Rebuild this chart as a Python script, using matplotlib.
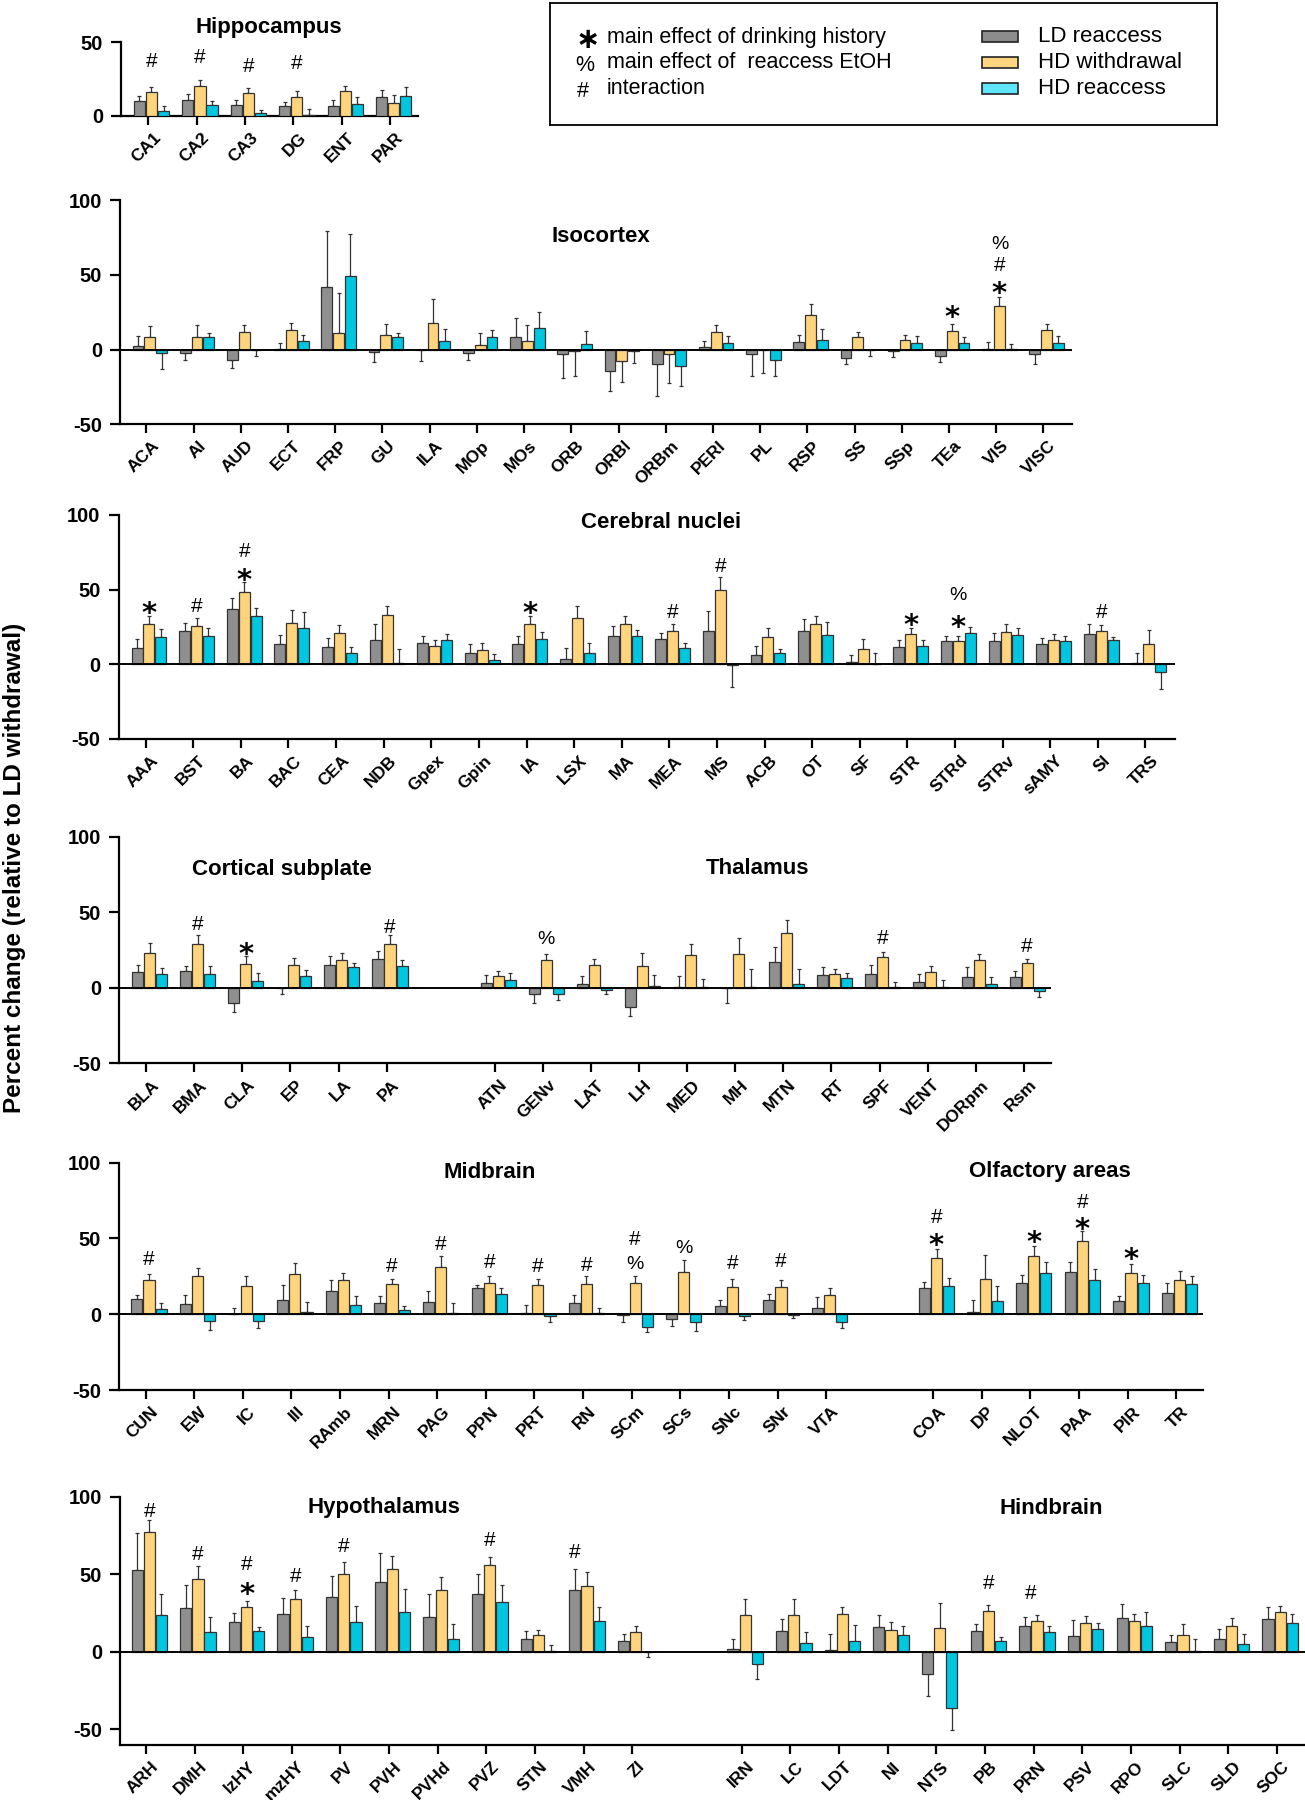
import matplotlib
matplotlib.use('Agg')
import matplotlib.pyplot as plt
import numpy as np
from matplotlib import font_manager
from matplotlib.ft2font import FT2Font
from matplotlib.patches import Rectangle
from matplotlib.transforms import ScaledTranslation

plt.rcParams['font.family'] = ['Liberation Sans', 'DejaVu Sans']

# ---------------- data (percent change, mean and SEM) ----------------
hippo_regions = ['CA1', 'CA2', 'CA3', 'DG', 'ENT', 'PAR']
hippo_ld = [10, 11, 7.5, 6.5, 6.5, 12.5]
hippo_ld_err = [3.5, 3.5, 3.5, 3, 4, 5]
hippo_hdw = [16, 20, 15.5, 13, 16.5, 8.5]
hippo_hdw_err = [3.5, 4, 3.5, 3.5, 4, 5.5]
hippo_hdr = [3, 7, 1.5, 0.5, 8, 13.5]
hippo_hdr_err = [3.5, 3, 2.5, 4, 4.5, 6]
hippo_marks = {'CA1': [('#', 38)], 'CA2': [('#', 41)], 'CA3': [('#', 35)], 'DG': [('#', 37)]}

iso_regions = ['ACA', 'AI', 'AUD', 'ECT', 'FRP', 'GU', 'ILA', 'MOp', 'MOs', 'ORB',
               'ORBl', 'ORBm', 'PERI', 'PL', 'RSP', 'SS', 'SSp', 'TEa', 'VIS', 'VISC']
iso_ld = [2.2, -2.2, -7.2, 0.3, 41.7, -1.5, -0.3, -2.2, 8.5, -2.7,
          -14.6, -9.9, 1.8, -2.7, 5.2, -5.4, -1.3, -4.5, 0.3, -2.7]
iso_ld_err = [7.0, 5.0, 4.9, 4.2, 37.3, 7.0, 7.5, 5.0, 12.4, 16.3,
              12.8, 21.3, 4.0, 15.2, 4.2, 4.2, 3.6, 3.6, 4.6, 7.2]
iso_hdw = [8.5, 8.5, 11.7, 13.2, 10.8, 9.4, 17.9, 3.1, 5.6, -0.9,
           -7.8, -2.7, 11.7, -0.3, 22.9, 8.3, 6.3, 12.6, 29.1, 12.8]
iso_hdw_err = [7.2, 7.9, 4.9, 4.3, 26.9, 7.4, 15.7, 7.7, 10.8, 16.8,
               14.2, 19.7, 4.7, 15.4, 7.4, 3.6, 3.3, 4.4, 6.3, 4.0]
iso_hdr = [-2.2, 8.5, -0.3, 5.8, 49.3, 8.3, 5.4, 8.1, 14.1, 3.4,
           -1.0, -10.8, 4.7, -6.7, 6.1, -0.3, 4.5, 4.3, 0.3, 4.7]
iso_hdr_err = [10.6, 2.7, 3.7, 3.8, 28.1, 2.9, 8.1, 4.9, 11.0, 9.2,
               7.7, 13.6, 4.3, 10.8, 7.4, 4.0, 4.7, 4.4, 3.7, 4.5]
iso_marks = {'TEa': [('*', 27.6)], 'VIS': [('*', 43.3), ('#', 57.8), ('%', 71.7)]}

cer_regions = ['AAA', 'BST', 'BA', 'BAC', 'CEA', 'NDB', 'Gpex', 'Gpin', 'IA', 'LSX', 'MA',
               'MEA', 'MS', 'ACB', 'OT', 'SF', 'STR', 'STRd', 'STRv', 'sAMY', 'SI', 'TRS']
cer_ld = [10.7, 22.4, 37.3, 13.6, 11.6, 16.0, 14.2, 7.6, 13.6, 3.3, 18.9,
          16.7, 22.2, 6.4, 22.0, 1.8, 11.3, 15.3, 15.3, 13.3, 20.2, 1.1]
cer_ld_err = [6.4, 5.6, 7.1, 6.2, 6.2, 11.1, 4.9, 6.2, 5.5, 7.8, 6.9,
              4.0, 13.4, 5.6, 8.4, 4.6, 4.9, 4.0, 6.0, 4.3, 6.7, 6.7]
cer_hdw = [26.7, 25.8, 48.2, 27.8, 20.9, 33.3, 12.4, 9.3, 26.7, 31.3, 27.3,
           22.2, 49.6, 18.0, 27.3, 10.2, 20.0, 15.3, 21.6, 16.0, 22.0, 13.6]
cer_hdw_err = [5.7, 4.9, 6.9, 8.9, 5.5, 5.6, 4.0, 4.7, 5.7, 7.6, 4.9,
               5.1, 8.8, 6.0, 4.9, 6.5, 4.2, 3.8, 5.7, 4.2, 4.4, 9.3]
cer_hdr = [18.4, 19.3, 32.7, 24.2, 7.8, 0.9, 16.2, 3.1, 17.1, 7.3, 18.7,
           11.1, -0.4, 7.6, 19.6, 0.4, 12.2, 21.3, 19.6, 15.3, 16.2, -4.9]
cer_hdr_err = [5.4, 4.7, 5.1, 10.7, 4.0, 9.3, 4.0, 4.0, 4.7, 6.9, 4.6,
               3.3, 14.9, 2.8, 8.8, 7.4, 3.8, 3.4, 4.4, 3.6, 2.2, 11.3]
cer_marks = {'AAA': [('*', 40)], 'BST': [('#', 40.2)], 'BA': [('*', 62.4), ('#', 76.7)],
             'IA': [('*', 40.2)], 'MEA': [('#', 36.2)], 'MS': [('#', 66.7)],
             'STR': [('*', 31.8)], 'STRd': [('*', 30.7), ('%', 48)], 'SI': [('#', 35.8)]}

sub_regions = ['BLA', 'BMA', 'CLA', 'EP', 'LA', 'PA']
sub_ld = [10.7, 11.3, -10.4, -0.3, 15.1, 19.1]
sub_ld_err = [4.2, 3.1, 5.8, 4.1, 5.6, 5.3]
sub_hdw = [23.3, 28.7, 15.8, 15.1, 18.7, 28.7]
sub_hdw_err = [6.3, 6.0, 4.9, 4.9, 4.4, 6.0]
sub_hdr = [9.1, 9.3, 4.7, 8.0, 13.8, 14.2]
sub_hdr_err = [4.2, 5.1, 5.3, 4.0, 2.9, 4.5]
sub_marks = {'BMA': [('#', 42.9)], 'CLA': [('*', 27.8)], 'PA': [('#', 41.1)]}

thal_regions = ['ATN', 'GENv', 'LAT', 'LH', 'MED', 'MH', 'MTN', 'RT', 'SPF', 'VENT', 'DORpm', 'Rsm']
thal_ld = [3.3, -3.8, 2.7, -12.9, 0.3, -0.3, 17.1, 8.7, 8.9, 3.8, 7.3, 6.9]
thal_ld_err = [5.4, 6.2, 4.9, 5.5, 7.3, 9.5, 10.2, 5.3, 6.0, 5.5, 6.7, 4.2]
thal_hdw = [7.6, 18.7, 15.3, 14.4, 22.0, 22.4, 36.4, 9.1, 20.4, 10.4, 18.2, 16.4]
thal_hdw_err = [3.5, 3.5, 4.0, 8.7, 6.7, 10.7, 8.5, 3.6, 3.6, 4.0, 4.2, 2.7]
thal_hdr = [5.3, -3.8, -1.6, 1.1, 0.3, 0.5, 2.2, 6.4, 0.3, 0.3, 2.4, -2.2]
thal_hdr_err = [4.3, 4.0, 2.8, 7.6, 5.7, 11.9, 10.2, 3.6, 3.3, 4.6, 4.7, 3.8]
thal_marks = {'GENv': [('%', 33.3)], 'SPF': [('#', 34)], 'Rsm': [('#', 28.7)]}

mid_regions = ['CUN', 'EW', 'IC', 'III', 'RAmb', 'MRN', 'PAG', 'PPN', 'PRT', 'RN',
               'SCm', 'SCs', 'SNc', 'SNr', 'VTA']
mid_ld = [10.2, 6.6, 0.3, 9.1, 15.3, 7.5, 8.0, 17.0, 1.1, 7.3, -0.5, -3.3, 5.3, 9.1, 4.0]
mid_ld_err = [2.6, 6.2, 4.1, 10.1, 7.3, 4.4, 7.3, 2.0, 5.1, 5.1, 4.4, 4.4, 4.4, 4.4, 7.1]
mid_hdw = [22.3, 25.4, 18.6, 26.8, 22.8, 20.1, 31.2, 20.6, 19.5, 20.1, 20.4, 27.9, 18.1, 17.7, 12.6]
mid_hdw_err = [4.0, 5.1, 6.8, 6.8, 4.2, 3.1, 7.1, 4.4, 3.5, 5.1, 4.8, 8.2, 5.1, 4.6, 4.7]
mid_hdr = [3.5, -4.2, -4.6, 1.8, 6.2, 2.9, 0.5, 13.3, -0.9, 0.5, -8.2, -5.3, -1.1, -0.5, -5.3]
mid_hdr_err = [3.6, 6.0, 4.2, 6.2, 6.0, 2.4, 7.0, 3.7, 4.0, 3.7, 3.8, 5.8, 2.7, 2.2, 3.8]
mid_marks = {'CUN': [('#', 37.6)], 'MRN': [('#', 32.7)], 'PAG': [('#', 47.6)],
             'PPN': [('#', 35.4)], 'PRT': [('#', 32.7)], 'RN': [('#', 33.8)],
             'SCm': [('%', 34.3), ('#', 50.4)], 'SCs': [('%', 44.9)],
             'SNc': [('#', 35)], 'SNr': [('#', 36)]}

olf_regions = ['COA', 'DP', 'NLOT', 'PAA', 'PIR', 'TR']
olf_ld = [17.3, 1.8, 20.4, 27.9, 8.8, 13.7]
olf_ld_err = [3.7, 7.5, 5.7, 6.4, 3.4, 6.7]
olf_hdw = [37.2, 23.0, 38.7, 48.0, 27.4, 22.6]
olf_hdw_err = [5.9, 16.2, 6.2, 6.9, 5.6, 6.2]
olf_hdr = [18.6, 8.6, 27.0, 22.8, 20.4, 19.7]
olf_hdr_err = [5.3, 10.0, 7.3, 7.1, 5.3, 5.5]
olf_marks = {'COA': [('*', 51.1), ('#', 65.3)], 'NLOT': [('*', 53.1)],
             'PAA': [('*', 61.9), ('#', 74.8)], 'PIR': [('*', 42)]}

hyp_regions = ['ARH', 'DMH', 'lzHY', 'mzHY', 'PV', 'PVH', 'PVHd', 'PVZ', 'STN', 'VMH', 'ZI']
hyp_ld = [52.8, 28.0, 19.2, 24.4, 35.3, 44.8, 22.6, 37.1, 8.6, 39.9, 7.1]
hyp_ld_err = [23.7, 14.9, 6.0, 10.1, 13.8, 18.8, 14.5, 12.9, 5.0, 13.8, 4.3]
hyp_hdw = [77.4, 47.0, 29.1, 33.8, 50.0, 53.2, 39.7, 55.8, 10.6, 42.2, 12.9]
hyp_hdw_err = [7.7, 8.6, 3.7, 6.1, 7.8, 8.7, 8.8, 5.6, 3.2, 9.1, 3.5]
hyp_hdr = [23.9, 13.1, 13.6, 9.9, 19.0, 25.6, 8.4, 32.3, 0.4, 19.6, -0.3]
hyp_hdr_err = [13.6, 9.1, 2.6, 6.5, 10.3, 15.1, 9.5, 11.0, 4.1, 9.3, 2.9]
hyp_marks = {'ARH': [('#', 92)], 'DMH': [('#', 64)], 'lzHY': [('*', 43.1), ('#', 57.8)],
             'mzHY': [('#', 49.6)], 'PV': [('#', 69.4)], 'PVZ': [('#', 73.3)],
             'VMH': [('#', 65.1, 0)]}

hind_regions = ['IRN', 'LC', 'LDT', 'NI', 'NTS', 'PB', 'PRN', 'PSV', 'RPO', 'SLC', 'SLD', 'SOC']
hind_ld = [1.9, 13.6, 1.3, 15.9, -14.0, 13.4, 16.8, 10.1, 22.0, 6.3, 8.6, 20.9]
hind_ld_err = [6.1, 7.3, 10.1, 7.6, 14.4, 4.3, 5.8, 10.4, 8.6, 4.5, 6.1, 7.8]
hind_hdw = [23.7, 23.9, 24.1, 13.8, 15.1, 26.3, 19.8, 18.3, 19.8, 10.6, 16.6, 25.6]
hind_hdw_err = [10.1, 10.4, 4.8, 5.4, 16.2, 4.1, 3.9, 4.8, 4.6, 7.5, 5.4, 3.9]
hind_hdr = [-7.8, 5.6, 7.3, 10.8, -36.2, 6.9, 12.5, 14.9, 16.6, 0.4, 5.4, 18.3]
hind_hdr_err = [9.7, 7.3, 9.9, 5.6, 14.0, 2.8, 4.1, 3.6, 8.8, 7.8, 6.2, 6.3]
hind_marks = {'PB': [('#', 45.3)], 'PRN': [('#', 39.2, 0.5)]}

series_names = ['LD reaccess', 'HD withdrawal', 'HD reaccess']
mark_notes = ['main effect of drinking history', 'main effect of  reaccess EtOH', 'interaction']

# ---------------- figure ----------------
W, H = 1305, 1800
fig = plt.figure(figsize=(W / 100, H / 100), dpi=100)

GREY, YELLOW, CYAN = '#8f8f8f', '#ffd47c', '#00c6e0'
BAR_COLORS = [GREY, YELLOW, CYAN]
OFFS = [-0.18, 0.07, 0.32]
BW = 0.23
EDGE = '#333333'

# vertically centred asterisk for the legend box if the bold font has it
_bold_path = font_manager.findfont(font_manager.FontProperties(family='DejaVu Sans', weight='bold'))
LEGEND_STAR = '\u2217' if FT2Font(_bold_path).get_char_index(0x2217) else '*'


def px_axes(left, top, right, bottom):
    return fig.add_axes([left / W, 1 - bottom / H, (right - left) / W, (bottom - top) / H])


def ptext(x, y, s, **kw):
    fig.text(x / W, 1 - y / H, s, **kw)


def put_mark(ax, x, y, sym, star_fs=21, fs=None):
    # place the glyph so that its visible centre sits on (x, y)
    if sym == '*':
        ax.annotate('*', (x, y), xytext=(0, -0.60 * star_fs), textcoords='offset points',
                    ha='center', va='baseline', fontsize=star_fs, fontweight='bold',
                    family='DejaVu Sans', zorder=6)
    else:
        fs = fs or (15 if sym == '#' else 14)
        ax.annotate(sym, (x, y), xytext=(0, -0.36 * fs), textcoords='offset points',
                    ha='center', va='baseline', fontsize=fs, zorder=6)


def draw_group(ax, start, regions, series, marks):
    x = start + np.arange(len(regions))
    for k, (vals, errs) in enumerate(series):
        vals = np.asarray(vals, float)
        errs = np.asarray(errs, float)
        xs = x + OFFS[k]
        ax.bar(xs, vals, BW, color=BAR_COLORS[k], edgecolor=EDGE, linewidth=0.9, zorder=3)
        lower = np.where(vals < 0, errs, 0)
        upper = np.where(vals >= 0, errs, 0)
        ax.errorbar(xs, vals, yerr=[lower, upper], fmt='none', ecolor=EDGE,
                    elinewidth=0.9, capsize=1.6, capthick=0.9, zorder=2)
    for region, items in marks.items():
        i = regions.index(region)
        for item in items:
            sym, y = item[0], item[1]
            bar = item[2] if len(item) > 2 else 1
            off = np.interp(bar, [0, 1, 2], OFFS)
            put_mark(ax, x[i] + off, y, sym)
    return list(x)


def setup(ax, xlim, ylim, ticks, labels, yticks):
    ax.set_xlim(*xlim)
    ax.set_ylim(*ylim)
    ax.patch.set_visible(False)
    for s in ['top', 'right']:
        ax.spines[s].set_visible(False)
    for s in ['left', 'bottom']:
        ax.spines[s].set_linewidth(1.6)
    ax.set_xticks(ticks)
    ax.set_xticklabels(labels, rotation=45, ha='right', va='top', rotation_mode='anchor',
                       fontsize=12.5, fontweight='bold')
    ax.set_yticks(yticks)
    ax.set_yticklabels([str(v) for v in yticks], fontsize=14.5, fontweight='bold')
    ax.tick_params(axis='x', length=6.5, width=1.6, pad=3.5)
    ax.tick_params(axis='y', length=7, width=1.6, pad=6)
    if ylim[0] < 0:
        ax.axhline(0, color='black', lw=1.4, zorder=4)
    shift = ScaledTranslation(5 / 100, 0, fig.dpi_scale_trans)
    for lab in ax.get_xticklabels():
        lab.set_transform(lab.get_transform() + shift)


def series(ld, ld_e, hdw, hdw_e, hdr, hdr_e):
    return [(ld, ld_e), (hdw, hdw_e), (hdr, hdr_e)]


TITLE = dict(fontsize=16, fontweight='bold', ha='center', va='center')

# Hippocampus
ax = px_axes(121.2, 42.3, 418, 115.7)
t = draw_group(ax, 0, hippo_regions,
               series(hippo_ld, hippo_ld_err, hippo_hdw, hippo_hdw_err, hippo_hdr, hippo_hdr_err),
               hippo_marks)
setup(ax, (-0.555, 5.57), (0, 50), t, hippo_regions, [0, 50])
ptext(269, 27, 'Hippocampus', **TITLE)

# Isocortex
ax = px_axes(120, 200, 1071.7, 424.3)
t = draw_group(ax, 0, iso_regions,
               series(iso_ld, iso_ld_err, iso_hdw, iso_hdw_err, iso_hdr, iso_hdr_err), iso_marks)
setup(ax, (-0.56, 19.6), (-50, 100), t, iso_regions, [-50, 0, 50, 100])
ptext(601, 237, 'Isocortex', **TITLE)

# Cerebral nuclei
ax = px_axes(118.5, 515, 1175, 739)
t = draw_group(ax, 0, cer_regions,
               series(cer_ld, cer_ld_err, cer_hdw, cer_hdw_err, cer_hdr, cer_hdr_err), cer_marks)
setup(ax, (-0.57, 21.62), (-50, 100), t, cer_regions, [-50, 0, 50, 100])
ptext(661, 523, 'Cerebral nuclei', **TITLE)

# Cortical subplate + Thalamus
ax = px_axes(119.3, 836.7, 1050.7, 1063.3)
t1 = draw_group(ax, 0, sub_regions,
                series(sub_ld, sub_ld_err, sub_hdw, sub_hdw_err, sub_hdr, sub_hdr_err), sub_marks)
t2 = draw_group(ax, 7.25, thal_regions,
                series(thal_ld, thal_ld_err, thal_hdw, thal_hdw_err, thal_hdr, thal_hdr_err), thal_marks)
setup(ax, (-0.56, 18.81), (-50, 100), t1 + t2, sub_regions + thal_regions, [-50, 0, 50, 100])
ptext(282, 869, 'Cortical subplate', **TITLE)
ptext(757, 869, 'Thalamus', **TITLE)

# Midbrain + Olfactory areas
ax = px_axes(119.3, 1162.7, 1203.4, 1390)
t1 = draw_group(ax, 0, mid_regions,
                series(mid_ld, mid_ld_err, mid_hdw, mid_hdw_err, mid_hdr, mid_hdr_err), mid_marks)
t2 = draw_group(ax, 16.2, olf_regions,
                series(olf_ld, olf_ld_err, olf_hdw, olf_hdw_err, olf_hdr, olf_hdr_err), olf_marks)
setup(ax, (-0.54, 21.76), (-50, 100), t1 + t2, mid_regions + olf_regions, [-50, 0, 50, 100])
ptext(490, 1172, 'Midbrain', **TITLE)
ptext(1050, 1172, 'Olfactory areas', **TITLE)

# Hypothalamus + Hindbrain
ax = px_axes(120.1, 1496.7, 1305, 1745)
t1 = draw_group(ax, 0, hyp_regions,
                series(hyp_ld, hyp_ld_err, hyp_hdw, hyp_hdw_err, hyp_hdr, hyp_hdr_err), hyp_marks)
t2 = draw_group(ax, 12.25, hind_regions,
                series(hind_ld, hind_ld_err, hind_hdw, hind_hdw_err, hind_hdr, hind_hdr_err), hind_marks)
setup(ax, (-0.53, 23.83), (-60, 100), t1 + t2, hyp_regions + hind_regions, [-50, 0, 50, 100])
ptext(384, 1508, 'Hypothalamus', **TITLE)
ptext(1051, 1508, 'Hindbrain', **TITLE)

# y label
ptext(15, 868, 'Percent change (relative to LD withdrawal)', rotation=90,
      ha='center', va='center', fontsize=17.5, fontweight='bold')

# legend box (axes in figure-pixel units, y downwards)
lax = px_axes(549.5, 2.7, 1216.5, 125)
lax.set_xlim(549.5, 1216.5)
lax.set_ylim(125, 2.7)
lax.set_xticks([])
lax.set_yticks([])
for s in lax.spines.values():
    s.set_linewidth(1.3)
rows = [38, 63, 89]
lax.text(588, 40, LEGEND_STAR, ha='center', va='center', fontsize=21, fontweight='bold',
         family='DejaVu Sans')
put_mark(lax, 585, rows[1], '%', fs=15.5)
put_mark(lax, 583, rows[2], '#', fs=15.5)
for note, yy in zip(mark_notes, rows):
    lax.text(607, yy, note, va='center', fontsize=15.5)
legend_colors = ['#8c8c8c', '#ffd580', '#60e6fc']
for name, color, yy in zip(series_names, legend_colors, [37, 62.5, 88]):
    lax.add_patch(Rectangle((982, yy - 5.5), 36, 11, facecolor=color, edgecolor='#222222', lw=1.2))
    lax.text(1038, yy, name, va='center', fontsize=16)

fig.savefig('out.png', dpi=100)
